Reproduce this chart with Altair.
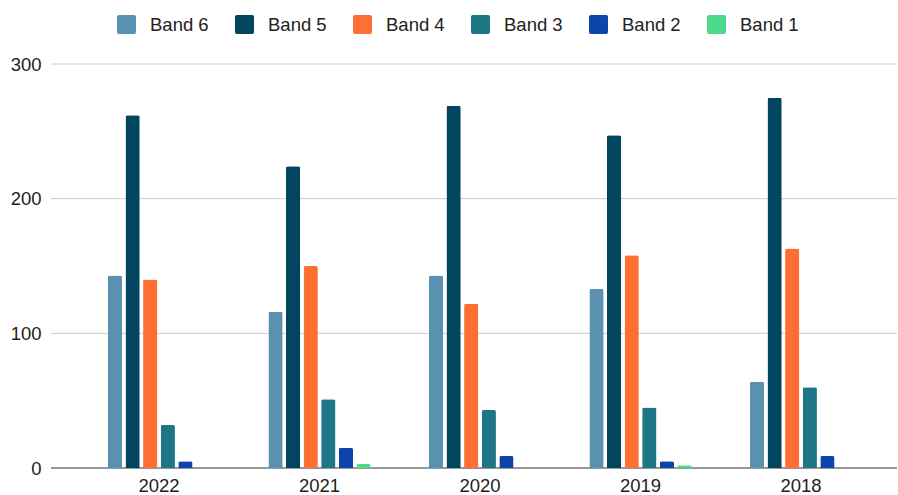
import altair as alt
import pandas as pd

# Counts per band for each year
years = ["2022", "2021", "2020", "2019", "2018"]
bands = ["Band 6", "Band 5", "Band 4", "Band 3", "Band 2", "Band 1"]
band6 = [143, 116, 143, 133, 64]
band5 = [262, 224, 269, 247, 275]
band4 = [140, 150, 122, 158, 163]
band3 = [32, 51, 43, 45, 60]
band2 = [5, 15, 9, 5, 9]
band1 = [0, 3, 0, 2, 0]
colors = ["#5a91b1", "#02455f", "#ff6e33", "#1e7585", "#0e45ab", "#4cd98c"]
y_ticks = [0, 100, 200, 300]

series = [band6, band5, band4, band3, band2, band1]
rows = []
for band, vals in zip(bands, series):
    for yr, v in zip(years, vals):
        rows.append({"Year": yr, "Band": band, "Count": v})
df = pd.DataFrame(rows)
grid_df = pd.DataFrame({"Count": y_ticks})

FONT = "Liberation Sans"
W, H = 846, 404

y_scale = alt.Scale(domain=[0, 300], nice=False)
rounded_square = "M-0.8,-1H0.8Q1,-1,1,-0.8V0.8Q1,1,0.8,1H-0.8Q-1,1,-1,0.8V-0.8Q-1,-1,-0.8,-1Z"

# horizontal gridlines across the full plot width, baseline darker
grid = alt.Chart(grid_df).mark_rule(strokeWidth=1).encode(
    x=alt.value(0),
    x2=alt.value(W),
    y=alt.Y("Count:Q", scale=y_scale),
    color=alt.condition("datum.Count === 0", alt.value("#333333"), alt.value("#cccccc")),
)

bars = alt.Chart(df).mark_bar(
    cornerRadiusTopLeft=2, cornerRadiusTopRight=2
).encode(
    x=alt.X(
        "Year:N",
        sort=years,
        scale=alt.Scale(range=[27.75, 830.25], paddingInner=0.342, paddingOuter=0.171),
        axis=alt.Axis(
            title=None, domain=False, ticks=False, grid=False, labelAngle=0,
            labelFont=FONT, labelFontSize=18.5, labelColor="#222222",
            labelPadding=8,
        ),
    ),
    xOffset=alt.XOffset(
        "Band:N", sort=bands,
        scale=alt.Scale(paddingInner=0.19, paddingOuter=0.095),
    ),
    y=alt.Y(
        "Count:Q",
        scale=y_scale,
        axis=alt.Axis(
            title=None, values=y_ticks, domain=False, ticks=False, grid=False,
            labelFont=FONT, labelFontSize=18.5, labelColor="#222222",
            labelPadding=10,
        ),
    ),
    color=alt.Color(
        "Band:N",
        sort=bands,
        scale=alt.Scale(domain=bands, range=colors),
        legend=alt.Legend(
            title=None, orient="none", direction="horizontal", columns=6,
            legendX=66, legendY=-49,
            symbolType=rounded_square, symbolSize=361, symbolStrokeWidth=0,
            symbolOpacity=1,
            labelFont=FONT, labelFontSize=18.5, labelColor="#222222",
            labelOffset=14, columnPadding=26, padding=0,
        ),
    ),
)

chart = alt.layer(grid, bars).properties(
    width=W, height=H,
    padding={"left": 51, "top": 64, "right": 1, "bottom": 27},
    autosize=alt.AutoSizeParams(type="none"),
    background="white",
).configure_view(stroke=None)

chart.save("out.html", embed_options={"renderer": "svg", "actions": False})
